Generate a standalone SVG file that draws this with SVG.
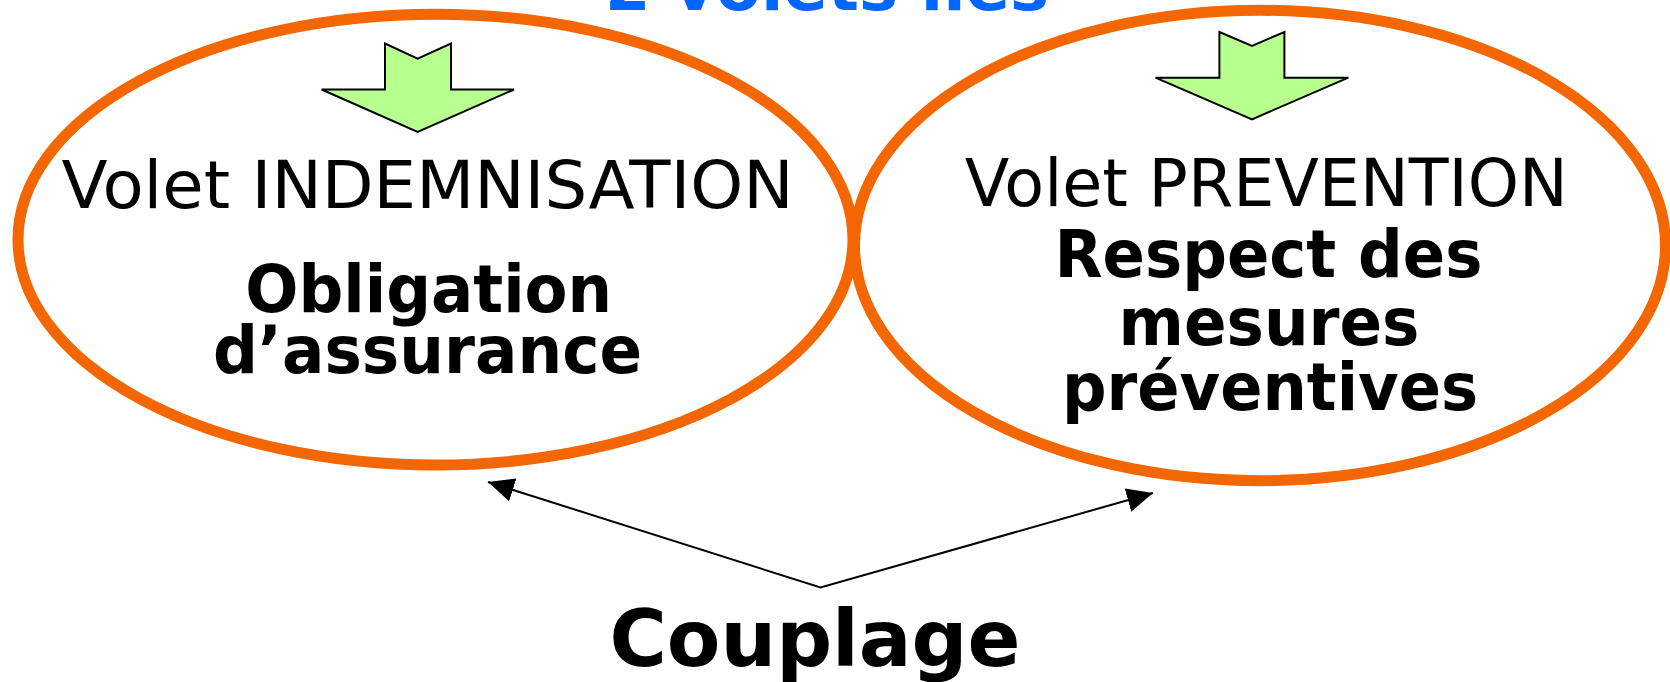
<svg xmlns="http://www.w3.org/2000/svg" width="1670" height="682" viewBox="0 0 1670 682">
<style>
.ell{fill:none;stroke:#f36600;stroke-width:11}
.blk{fill:#b7ff8f;stroke:#000;stroke-width:2;stroke-linejoin:miter}
.reg{font-family:"DejaVu Sans","Liberation Sans",sans-serif;font-size:65px;fill:#000;text-anchor:middle}
.bold{font-family:"DejaVu Sans","Liberation Sans",sans-serif;font-weight:bold;font-size:66px;fill:#000;text-anchor:middle}
.conn{fill:none;stroke:#000;stroke-width:2}
</style>
<defs>
<marker id="ah" viewBox="0 0 26 24" refX="26" refY="12" markerWidth="26" markerHeight="24" markerUnits="userSpaceOnUse" orient="auto-start-reverse">
<path d="M0,0 L26,12 L0,24 Z" fill="#000"/>
</marker>
</defs>
<rect width="1670" height="682" fill="#fff"/>
<g id="title">
<text x="827" y="10" textLength="444" lengthAdjust="spacingAndGlyphs" style="font-family:'DejaVu Sans','Liberation Sans',sans-serif;font-weight:bold;font-size:66px;fill:#0066ff;text-anchor:middle">2 volets liés</text>
</g>
<g id="indemnisation">
<ellipse class="ell" cx="435.5" cy="239.6" rx="417.5" ry="225.4"/>
<polygon class="blk" points="385,43.5 417.6,58.6 451,43.5 451,89.5 514,89.5 417.6,132 321.6,89.5 385,89.5"/>
<text class="reg" x="427.6" y="207.5" textLength="732" lengthAdjust="spacingAndGlyphs">Volet INDEMNISATION</text>
<text class="bold" x="428.7" y="312" textLength="367" lengthAdjust="spacingAndGlyphs">Obligation</text>
<text class="bold" x="427.6" y="372.5" textLength="429" lengthAdjust="spacingAndGlyphs">d’assurance</text>
</g>
<g id="prevention">
<ellipse class="ell" cx="1260" cy="245.5" rx="405.5" ry="235.2"/>
<polygon class="blk" points="1219.4,32 1252,45.8 1284.4,32 1284.4,77.7 1348.3,77.7 1252,119.3 1155.5,77.7 1219.4,77.7"/>
<text class="reg" x="1266.3" y="205.5" textLength="603" lengthAdjust="spacingAndGlyphs">Volet PREVENTION</text>
<text class="bold" x="1268.4" y="277" textLength="428" lengthAdjust="spacingAndGlyphs">Respect des</text>
<text class="bold" x="1269" y="345" textLength="301" lengthAdjust="spacingAndGlyphs">mesures</text>
<text class="bold" x="1270" y="410" textLength="416" lengthAdjust="spacingAndGlyphs">préventives</text>
</g>
<g id="couplage">
<text class="bold" x="815" y="666" textLength="411" lengthAdjust="spacingAndGlyphs" style="font-size:78px">Couplage</text>
</g>
<g id="connectors">
<polyline class="conn" points="488,482 820.5,587.5 1153,493" marker-start="url(#ah)" marker-end="url(#ah)"/>
</g>
</svg>
